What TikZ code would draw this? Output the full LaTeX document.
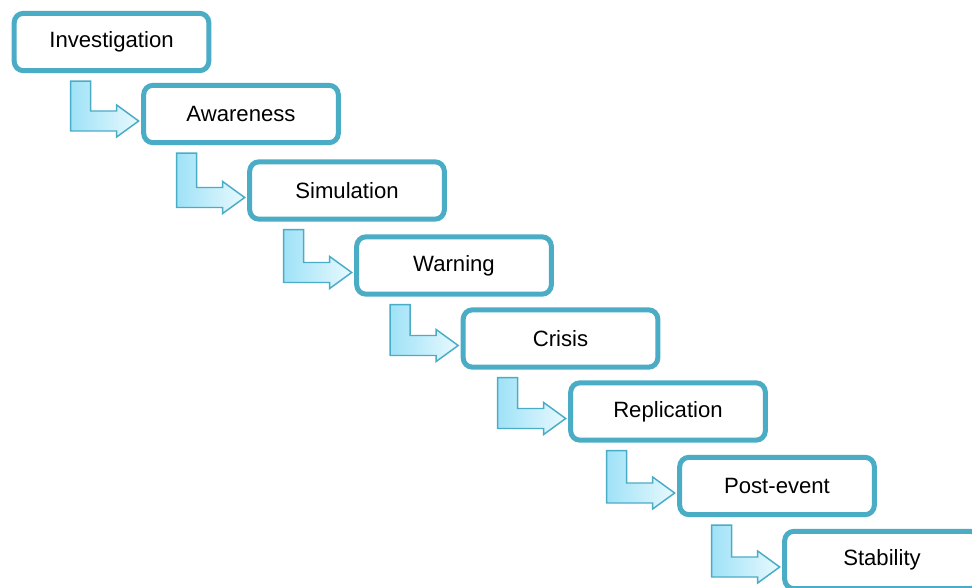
\documentclass[tikz,border=0pt]{standalone}
\usepackage{fontspec}
\setmainfont{Liberation Sans}
\usetikzlibrary{calc}

\definecolor{stepline}{HTML}{4BACC6}
\definecolor{arrowdark}{HTML}{9FE2F7}
\definecolor{arrowlight}{HTML}{E8F9FE}

\tikzset{
  stage/.style={draw=stepline, line width=3.75pt, rounded corners=7pt, fill=white,
    minimum width=146pt, minimum height=43pt, font=\fontsize{16.6}{19}\selectfont},
  bentarrow/.style={draw=stepline, line width=1.1pt, left color=arrowdark,
    right color=arrowlight, line join=miter}
}

\begin{document}
\begin{tikzpicture}[x=0.75pt, y=-0.75pt]
  \useasboundingbox (0,0) rectangle (972,588);
  % etapas
  \node[stage] (inv) at (111.5,42) {Investigation};
  \node[stage] (awa) at (241,114) {Awareness};
  \node[stage] (sim) at (347,190.5) {Simulation};
  \node[stage] (war) at (454,265.5) {Warning};
  \node[stage] (cri) at (560.5,338.5) {Crisis};
  \node[stage] (rep) at (668,411.5) {Replication};
  \node[stage] (pos) at (777,486) {Post-event};
  \node[stage] (sta) at (882,560) {Stability};
  % setas em L
  \foreach \src/\dst in {inv/awa, awa/sim, sim/war, war/cri, cri/rep, rep/pos, pos/sta} {
    \coordinate (tip) at ([shift={(-2.5,7)}]\dst.west);
    \coordinate (top) at ([shift={(0,8)}]\src.south);
    \coordinate (corner) at ($(tip |- top)+(-68,0)$);
    \draw[bentarrow] (corner) -- ++(20,0) |- ($(tip)+(-22,-10)$) -- ++(0,-6)
      -- (tip) -- ++(-22,16) -- ++(0,-6) -- ($(tip)+(-68,10)$) -- cycle;
  }
\end{tikzpicture}
\end{document}
